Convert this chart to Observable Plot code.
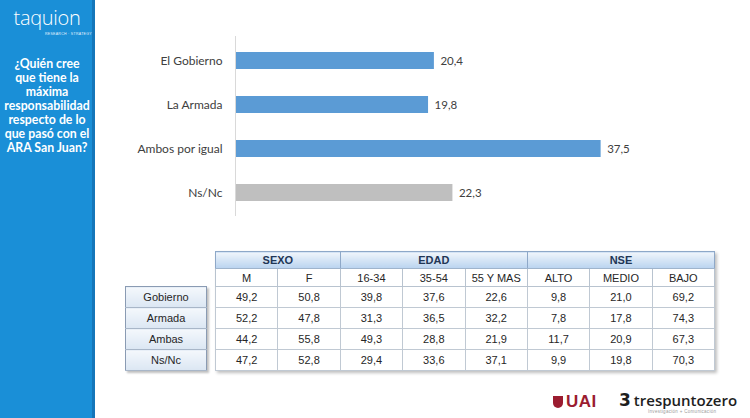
<!DOCTYPE html>
<html>
<head>
<meta charset="utf-8">
<script src="https://cdn.jsdelivr.net/npm/d3@7"></script>
<script src="https://cdn.jsdelivr.net/npm/@observablehq/plot@0.6"></script>
<style>
  html, body { margin:0; padding:0; }
  body { width:750px; height:418px; position:relative; background:#fff; overflow:hidden; font-family:"Liberation Sans", Arial, sans-serif; }
  #side { position:absolute; left:0; top:0; width:92px; height:418px; background:#1a8fd7; border-right:3px solid #1576b9; }
  #logo { position:absolute; left:12px; top:7px; width:70px; text-align:center; color:#fff; font-family:"Open Sans", sans-serif; font-weight:300; font-size:20px; letter-spacing:-0.3px; line-height:22px; }
  #logosub { position:absolute; left:45px; top:32px; color:#e8f4ff; font-size:3.5px; letter-spacing:0.3px; font-family:"Liberation Sans", sans-serif; white-space:nowrap; }
  #question { position:absolute; left:0; top:57px; width:94px; text-align:center; color:#fff; font-family:Lato, sans-serif; font-weight:700; font-size:12.3px; line-height:14px; }
  #chart { position:absolute; left:100px; top:31px; }
  #labels { position:absolute; left:125px; top:286px; width:82px; border:1px solid #8a9bb3; box-shadow:2px 2px 2px rgba(0,0,0,0.25); border-collapse:collapse; }
  #main { position:absolute; left:215px; top:251px; width:500px; border-collapse:collapse; box-shadow:2px 2px 3px rgba(0,0,0,0.25); border:1px solid #8ea8c8; table-layout:fixed; }
  table td, table th { font-family:"Liberation Sans", Arial, sans-serif; font-size:11px; color:#262626; text-align:center; padding:0; }
  #main th.grp { height:16px; background:linear-gradient(#f0f5fb, #b9d3ef); color:#1f3656; font-weight:700; border-left:1px solid #8ea8c8; border-bottom:1px solid #9fb4cc; }
  #main th.sub { height:17px; font-weight:400; background:#fff; border:1px solid #b8c3cf; }
  #main td { height:20px; border:1px solid #c0c9d3; }
  #labels td { height:20px; background:linear-gradient(#f4f8fc, #dbe6f3); border-bottom:1px solid #a8b6c8; }
  #uai { position:absolute; left:553px; top:392px; color:#9b1c30; font-family:"Liberation Sans", sans-serif; font-weight:700; font-size:17px; letter-spacing:0.5px; }
  #uai .shield { display:inline-block; width:10px; height:12px; background:#9b1c30; border-radius:0 0 5px 5px; margin-right:3px; vertical-align:-1px; position:relative; }
  #tres { position:absolute; left:619px; top:390px; color:#1e1e1e; font-family:"Open Sans", sans-serif; font-weight:600; font-size:15px; white-space:nowrap; }
  #tres .three { font-family:"DejaVu Sans", sans-serif; font-weight:700; font-size:17px; margin-right:3px; }
  #tressub { position:absolute; left:648px; top:409px; color:#9a9a9a; font-size:4.5px; letter-spacing:0.3px; white-space:nowrap; font-family:"Liberation Sans", sans-serif; }
</style>
</head>
<body>
<div id="side">
  <div id="logo">taquion</div>
  <div id="logosub">RESEARCH · STRATEGY</div>
  <div id="question">¿Quién cree<br>que tiene la<br>máxima<br>responsabilidad<br>respecto de lo<br>que pasó con el<br>ARA San Juan?</div>
</div>
<div id="chart"></div>
<table id="labels"><tbody></tbody></table>
<table id="main"><thead></thead><tbody></tbody></table>
<div id="uai"><span class="shield"></span>UAI</div>
<div id="tres"><span class="three">3</span>trespuntozero</div>
<div id="tressub">Investigación + Comunicación</div>
<script>
// ---- Bar chart data ----
const categories = ["El Gobierno", "La Armada", "Ambos por igual", "Ns/Nc"];
const values = [20.4, 19.8, 37.5, 22.3];

// ---- Table data ----
const groupNames = ["SEXO", "EDAD", "NSE"];
const groupSpans = [2, 3, 3];
const subHeaders = ["M", "F", "16-34", "35-54", "55 Y MAS", "ALTO", "MEDIO", "BAJO"];
const rowLabels = ["Gobierno", "Armada", "Ambas", "Ns/Nc"];
const rowGobierno = [49.2, 50.8, 39.8, 37.6, 22.6, 9.8, 21.0, 69.2];
const rowArmada   = [52.2, 47.8, 31.3, 36.5, 32.2, 7.8, 17.8, 74.3];
const rowAmbas    = [44.2, 55.8, 49.3, 28.8, 21.9, 11.7, 20.9, 67.3];
const rowNsNc     = [47.2, 52.8, 29.4, 33.6, 37.1, 9.9, 19.8, 70.3];
const tableRows = [rowGobierno, rowArmada, rowAmbas, rowNsNc];

const fmt = v => v.toFixed(1).replace(".", ",");
const data = categories.map((c, i) => ({category: c, value: values[i]}));

const chart = Plot.plot({
  width: 540,
  height: 190,
  marginLeft: 135,
  marginRight: 15,
  marginTop: 5,
  marginBottom: 5,
  style: {fontFamily: "Lato, sans-serif", fontSize: "12px", color: "#404040", background: "transparent"},
  x: {domain: [0, 40], axis: null},
  y: {domain: categories, paddingInner: 0.614, paddingOuter: 0.352, axis: null},
  marks: [
    Plot.barX(data, {x: "value", y: "category", fill: d => d.category === "Ns/Nc" ? "#bfbfbf" : "#5b9bd5"}),
    Plot.ruleX([0], {stroke: "#d9d9d9", strokeWidth: 1}),
    Plot.axisY({tickSize: 0, tickPadding: 13, fontSize: 12, fill: "#404040", label: null}),
    Plot.text(data, {x: "value", y: "category", text: d => fmt(d.value), dx: 6, textAnchor: "start", fontSize: 11.5, fill: "#404040"})
  ]
});
document.getElementById("chart").appendChild(chart);

// ---- Table ----
const main = document.getElementById("main");
const thead = main.querySelector("thead");
const trG = document.createElement("tr");
groupNames.forEach((g, i) => {
  const th = document.createElement("th");
  th.className = "grp"; th.colSpan = groupSpans[i]; th.textContent = g;
  trG.appendChild(th);
});
thead.appendChild(trG);
const trS = document.createElement("tr");
subHeaders.forEach(s => {
  const th = document.createElement("th");
  th.className = "sub"; th.textContent = s;
  trS.appendChild(th);
});
thead.appendChild(trS);
const tbody = main.querySelector("tbody");
tableRows.forEach(r => {
  const tr = document.createElement("tr");
  r.forEach(v => { const td = document.createElement("td"); td.textContent = fmt(v); tr.appendChild(td); });
  tbody.appendChild(tr);
});
const lbody = document.querySelector("#labels tbody");
rowLabels.forEach(l => {
  const tr = document.createElement("tr");
  const td = document.createElement("td"); td.textContent = l;
  tr.appendChild(td); lbody.appendChild(tr);
});
</script>
</body>
</html>
